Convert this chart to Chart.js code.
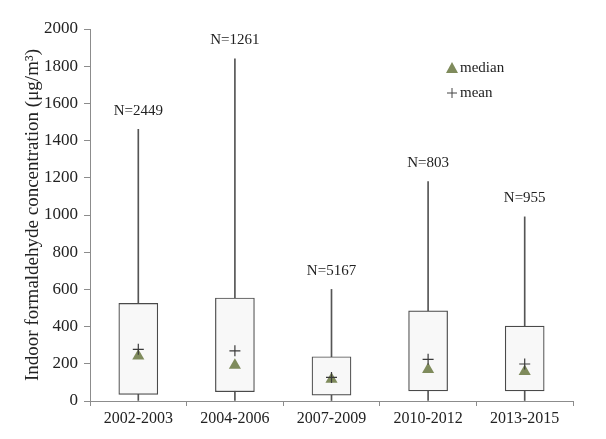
<!DOCTYPE html>
<html>
<head>
<meta charset="utf-8">
<title>Indoor formaldehyde</title>
<script src="https://cdn.jsdelivr.net/npm/chart.js@4/dist/chart.umd.min.js"></script>
<style>
  body { margin: 0; background: #fff; }
  #wrap { width: 606px; height: 439px; }
</style>
</head>
<body>
<div id="wrap"><canvas id="myChart"></canvas></div>
<script>
'use strict';

// data
let periods = ['2002-2003', '2004-2006', '2007-2009', '2010-2012', '2013-2015'];
let sampleSizes = ['N=2449', 'N=1261', 'N=5167', 'N=803', 'N=955'];
let whiskerLow = [0, 0, 0, 0, 0];
let whiskerHigh = [1460, 1840, 600, 1180, 990];
let boxLow = [36, 50, 31, 54, 54];
let boxHigh = [525, 554, 238, 485, 403];
let medians = [242, 192, 117, 170, 158];
let means = [278, 270, 127, 224, 199];
let yTicks = [0, 200, 400, 600, 800, 1000, 1200, 1400, 1600, 1800, 2000];

let serif = 'Liberation Serif';
let textColor = '#222';
let axisColor = '#8c8c8c';
let medianColor = '#7f8b5c';

let whiskers = [];
let boxes = [];
for (let i = 0; i < periods.length; i++) {
  whiskers.push([whiskerLow[i], whiskerHigh[i]]);
  boxes.push([boxLow[i], boxHigh[i]]);
}

// N= labels above each whisker, plus the little legend
let annotations = {
  id: 'annotations',
  afterDatasetsDraw(chart) {
    let ctx = chart.ctx;
    let x = chart.scales.x;
    let y = chart.scales.y;
    ctx.save();
    ctx.fillStyle = textColor;
    ctx.font = '15px "' + serif + '"';
    ctx.textAlign = 'center';
    ctx.textBaseline = 'bottom';
    for (let i = 0; i < periods.length; i++) {
      ctx.fillText(sampleSizes[i], x.getPixelForValue(i), y.getPixelForValue(whiskerHigh[i]) - 11);
    }

    // legend
    let lx = 452;
    let ly = 68;
    ctx.fillStyle = medianColor;
    ctx.beginPath();
    ctx.moveTo(lx, ly - 6);
    ctx.lineTo(lx + 6, ly + 5);
    ctx.lineTo(lx - 6, ly + 5);
    ctx.closePath();
    ctx.fill();
    ctx.strokeStyle = '#444';
    ctx.lineWidth = 1;
    ctx.beginPath();
    ctx.moveTo(lx - 5, ly + 25);
    ctx.lineTo(lx + 5, ly + 25);
    ctx.moveTo(lx, ly + 20);
    ctx.lineTo(lx, ly + 30);
    ctx.stroke();
    ctx.fillStyle = textColor;
    ctx.textAlign = 'left';
    ctx.textBaseline = 'middle';
    ctx.fillText('median', lx + 8, ly);
    ctx.fillText('mean', lx + 8, ly + 25);
    ctx.restore();
  }
};

let ctx = document.getElementById('myChart').getContext('2d');
let myChart = new Chart(ctx, {
  type: 'bar',
  data: {
    labels: periods,
    datasets: [
      {
        type: 'scatter',
        label: 'mean',
        data: means,
        pointStyle: 'cross',
        pointRadius: 5.5,
        borderColor: '#3a3a3a',
        borderWidth: 1.2,
        showLine: false,
        order: 0
      },
      {
        type: 'scatter',
        label: 'median',
        data: medians,
        pointStyle: 'triangle',
        pointRadius: 7,
        backgroundColor: medianColor,
        borderColor: medianColor,
        borderWidth: 0,
        showLine: false,
        order: 1
      },
      {
        label: 'box',
        data: boxes,
        grouped: false,
        barThickness: 39,
        backgroundColor: '#f8f8f8',
        borderColor: '#4a4a4a',
        borderWidth: 1.2,
        borderSkipped: false,
        order: 2
      },
      {
        label: 'whisker',
        data: whiskers,
        grouped: false,
        barThickness: 1,
        backgroundColor: '#555',
        borderWidth: 0,
        order: 3
      }
    ]
  },
  options: {
    responsive: true,
    maintainAspectRatio: false,
    animation: false,
    layout: { padding: { top: 29, right: 33, left: 0, bottom: 0 } },
    plugins: {
      legend: { display: false },
      tooltip: { enabled: false }
    },
    scales: {
      x: {
        type: 'category',
        offset: true,
        grid: {
          offset: true,
          drawOnChartArea: false,
          drawTicks: true,
          tickLength: 5,
          color: axisColor
        },
        border: { color: axisColor },
        ticks: {
          color: textColor,
          padding: 3,
          font: { family: serif, size: 16 }
        },
        afterFit(scale) {
          scale.height = 38;
        }
      },
      y: {
        min: 0,
        max: 2000,
        afterBuildTicks(scale) {
          scale.ticks = yTicks.map(v => ({ value: v }));
        },
        grid: {
          drawOnChartArea: false,
          drawTicks: true,
          tickLength: 6,
          color: axisColor
        },
        border: { color: axisColor },
        ticks: {
          color: textColor,
          padding: 6,
          font: { family: serif, size: 17 },
          callback: v => String(v)
        },
        title: {
          display: true,
          text: 'Indoor formaldehyde concentration (\u03bcg/m\u00b3)',
          color: textColor,
          font: { family: serif, size: 19 },
          padding: { top: 22, bottom: 4 }
        },
        afterFit(scale) {
          scale.width = 90;
        }
      }
    }
  },
  plugins: [annotations]
});
</script>
</body>
</html>
